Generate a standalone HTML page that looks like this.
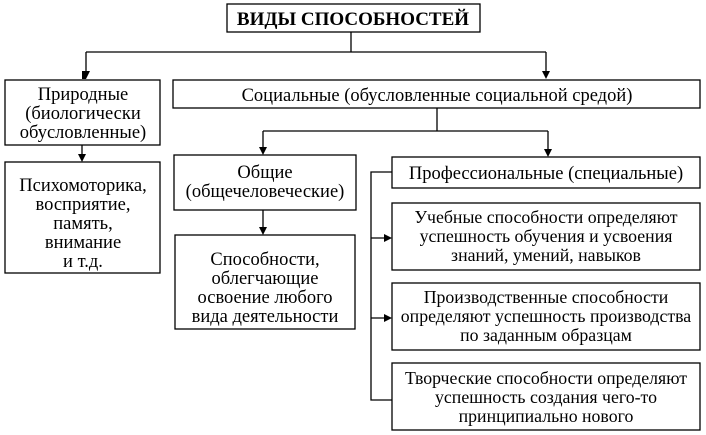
<!DOCTYPE html>
<html><head><meta charset="utf-8"><style>
html,body{margin:0;padding:0;background:#fff;width:706px;height:435px;overflow:hidden}
text{font-family:"Liberation Serif",serif;font-size:18.5px;fill:#000}
.s{font-size:17.8px}
</style></head><body>
<svg width="706" height="435" viewBox="0 0 706 435" xmlns="http://www.w3.org/2000/svg">
<g fill="none" stroke="#000" stroke-width="1.3">
<rect x="227" y="4" width="253" height="28"/>
<rect x="5" y="80" width="155" height="65"/>
<rect x="173" y="80" width="527" height="28"/>
<rect x="5" y="162" width="155" height="111"/>
<rect x="174" y="155" width="182" height="55"/>
<rect x="175" y="235" width="180" height="94"/>
<rect x="392" y="157" width="308" height="31"/>
<rect x="392" y="203" width="308" height="67"/>
<rect x="392" y="283" width="308" height="67"/>
<rect x="392" y="363" width="308" height="67"/>
<path d="M351,32V52M86,52H546M86,52V72M546,52V72"/>
<path d="M437,108V131M263,131H548M263,131V148M548,131V150"/>
<path d="M82,145V155M263,210V228"/>
<path d="M392,172H371V400H392M371,238H385M371,318H385"/>
</g>
<g fill="#000">
<path d="M82,79L86,79L82,79L82,71L90,71L86,79z"/>
<path d="M542,71L550,71L546,79z"/>
<path d="M259,147L267,147L263,155z"/>
<path d="M544,149L552,149L548,157z"/>
<path d="M78,154L86,154L82,162z"/>
<path d="M259,227L267,227L263,235z"/>
<path d="M384,234L392,238L384,242z"/>
<path d="M384,314L392,318L384,322z"/>
</g>
<text x="353" y="25" text-anchor="middle" font-weight="bold" style="font-size:19px">ВИДЫ СПОСОБНОСТЕЙ</text>
<g text-anchor="middle">
<text x="83" y="100">Природные</text>
<text x="83" y="119">(биологически</text>
<text x="83" y="138">обусловленные)</text>
<text x="437" y="101">Социальные (обусловленные социальной средой)</text>
<text x="83" y="191">Психомоторика,</text>
<text x="83" y="210">восприятие,</text>
<text x="83" y="229">память,</text>
<text x="83" y="248">внимание</text>
<text x="83" y="267">и т.д.</text>
<text x="265" y="178">Общие</text>
<text x="265" y="197">(общечеловеческие)</text>
<text x="265" y="265">Способности,</text>
<text x="265" y="284">облегчающие</text>
<text x="265" y="303">освоение любого</text>
<text x="265" y="322">вида деятельности</text>
<text x="546" y="179">Профессиональные (специальные)</text>
<text class="s" x="546" y="223">Учебные способности определяют</text>
<text class="s" x="546" y="242">успешность обучения и усвоения</text>
<text class="s" x="546" y="261">знаний, умений, навыков</text>
<text class="s" x="546" y="303">Производственные способности</text>
<text class="s" x="546" y="322">определяют успешность производства</text>
<text class="s" x="546" y="341">по заданным образцам</text>
<text class="s" x="546" y="384">Творческие способности определяют</text>
<text class="s" x="546" y="403">успешность создания чего-то</text>
<text class="s" x="546" y="422">принципиально нового</text>
</g>
</svg>
</body></html>
